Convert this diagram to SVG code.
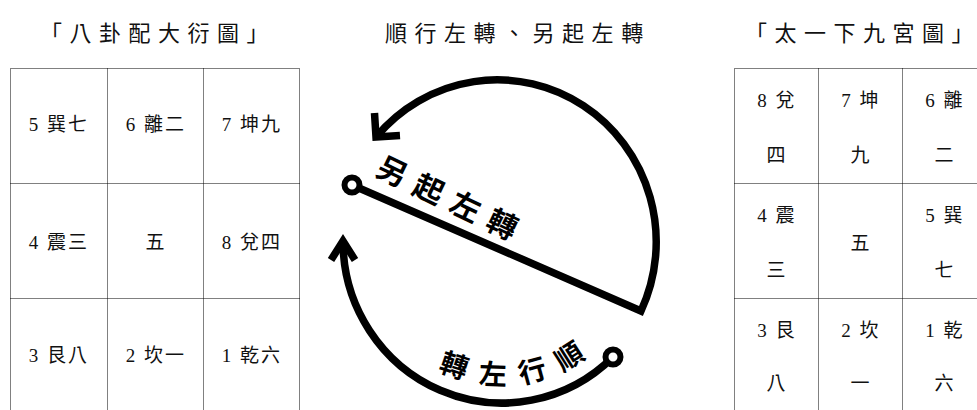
<svg xmlns="http://www.w3.org/2000/svg" width="977" height="410" viewBox="0 0 977 410">
<style>
.title{font-family:"Liberation Serif","Noto Sans CJK TC",serif;font-size:22px;fill:#111}
.cell{font-family:"Liberation Serif","Noto Sans CJK TC",serif;font-size:19px;letter-spacing:2px;fill:#111;text-anchor:middle}
.grid{stroke:#000;stroke-width:1;stroke-dasharray:1 1;fill:none}
.stroke{fill:none;stroke:#000;stroke-width:7.5;stroke-linejoin:miter;stroke-miterlimit:10}
.ring{fill:#fff;stroke:#000;stroke-width:6}
.hand{font-family:"Noto Sans CJK TC",sans-serif;font-weight:700;fill:#000;dominant-baseline:central}
</style>
<defs>
<path id="arcText" d="M417.15,341.6 A132,132 0 0 0 603.1,325.35"/>
</defs>
<rect width="977" height="410" fill="#fff"/>

<!-- titles -->
<g id="title-left"><text class="title" x="40" y="40.5" dx="0 7.5 7.5 7.5 7.5 7.5 7.5 7.5">「八卦配大衍圖」</text></g>
<g id="title-mid"><text class="title" x="385" y="40.5" dx="0 7.5 7.5 7.5 7.5 7.5 7.5 7.5 7.5">順行左轉、另起左轉</text></g>
<g id="title-right"><text class="title" x="745" y="40.5" dx="0 7.5 7.5 7.5 7.5 7.5 7.5 7.5">「太一下九宮圖」</text></g>

<!-- left table -->
<g id="table-left">
<g class="grid">
<rect x="10.5" y="68.5" width="289" height="344"/>
<line x1="107.5" y1="68.5" x2="107.5" y2="412"/>
<line x1="203.5" y1="68.5" x2="203.5" y2="412"/>
<line x1="10.5" y1="183.5" x2="299.5" y2="183.5"/>
<line x1="10.5" y1="298.5" x2="299.5" y2="298.5"/>
</g>
<g id="L-xun"><text class="cell" x="59" y="131">5 巽七</text></g>
<g id="L-li"><text class="cell" x="156" y="131">6 離二</text></g>
<g id="L-kun"><text class="cell" x="252" y="131">7 坤九</text></g>
<g id="L-zhen"><text class="cell" x="59" y="249">4 震三</text></g>
<g id="L-center"><text class="cell" x="156" y="249">五</text></g>
<g id="L-dui"><text class="cell" x="252" y="249">8 兌四</text></g>
<g id="L-gen"><text class="cell" x="59" y="362">3 艮八</text></g>
<g id="L-kan"><text class="cell" x="156" y="362">2 坎一</text></g>
<g id="L-qian"><text class="cell" x="252" y="362">1 乾六</text></g>
</g>

<!-- right table -->
<g id="table-right">
<g class="grid">
<rect x="734.5" y="68.5" width="260" height="344"/>
<line x1="818.5" y1="68.5" x2="818.5" y2="412"/>
<line x1="902.5" y1="68.5" x2="902.5" y2="412"/>
<line x1="734.5" y1="183.5" x2="977" y2="183.5"/>
<line x1="734.5" y1="298.5" x2="977" y2="298.5"/>
</g>
<g id="R-dui"><text class="cell" x="777" y="107">8 兌<tspan x="777" y="162">四</tspan></text></g>
<g id="R-kun"><text class="cell" x="861" y="107">7 坤<tspan x="861" y="162">九</tspan></text></g>
<g id="R-li"><text class="cell" x="945" y="107">6 離<tspan x="945" y="162">二</tspan></text></g>
<g id="R-zhen"><text class="cell" x="777" y="222">4 震<tspan x="777" y="277">三</tspan></text></g>
<g id="R-center"><text class="cell" x="861" y="250">五</text></g>
<g id="R-xun"><text class="cell" x="945" y="222">5 巽<tspan x="945" y="277">七</tspan></text></g>
<g id="R-gen"><text class="cell" x="777" y="337">3 艮<tspan x="777" y="390">八</tspan></text></g>
<g id="R-kan"><text class="cell" x="861" y="337">2 坎<tspan x="861" y="390">一</tspan></text></g>
<g id="R-qian"><text class="cell" x="945" y="337">1 乾<tspan x="945" y="390">六</tspan></text></g>
</g>

<!-- rotation diagram -->
<g id="connectors">
<path class="stroke" d="M352,185 L641,311 A159,162 0 0 0 376,137"/>
<polyline class="stroke" points="374.5,113 376,137 400,135.5"/>
<path class="stroke" d="M613,357 A159,162 0 0 1 343,241"/>
<polyline class="stroke" points="331,260 343,241 355,260"/>
<circle class="ring" cx="352" cy="185" r="7.5"/>
<circle class="ring" cx="613" cy="357" r="7.5"/>
</g>
<g id="label-lingqi" transform="translate(448,196) rotate(25.7)">
<text class="hand" x="-76" y="0" font-size="30" letter-spacing="10.7">另起左轉</text>
</g>
<g id="label-shunxing">
<text class="hand" font-size="28" letter-spacing="11"><textPath href="#arcText" startOffset="108" text-anchor="middle">轉左行順</textPath></text>
</g>
</svg>
